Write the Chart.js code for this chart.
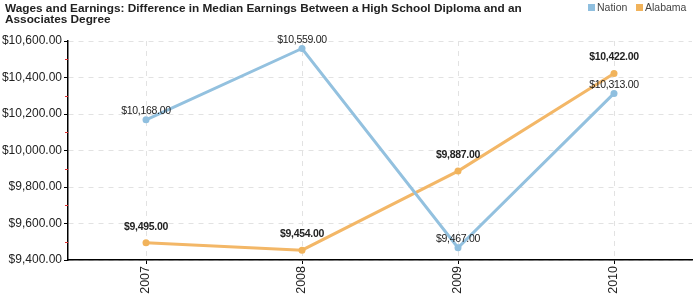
<!DOCTYPE html>
<html><head><meta charset="utf-8">
<script src="https://cdn.jsdelivr.net/npm/chart.js@4/dist/chart.umd.min.js"></script>
<style>html,body{margin:0;padding:0;background:#fff}#w{width:700px;height:300px;position:relative}</style>
</head><body><div id="w"><canvas id="c" width="700" height="300"></canvas></div>
<script>
const categories = ['2007','2008','2009','2010'];
const nationValues = [10168, 10559, 9467, 10313];
const alabamaValues = [9495, 9454, 9887, 10422];
const yTicks = [9400, 9600, 9800, 10000, 10200, 10400, 10600];
const titleLines = ['Wages and Earnings: Difference in Median Earnings Between a High School Diploma and an', 'Associates Degree'];
const seriesNames = ['Nation', 'Alabama'];

const fmt = v => '$' + v.toLocaleString('en-US', {minimumFractionDigits: 2, maximumFractionDigits: 2});
const FONT = 'Arial, "Liberation Sans", sans-serif';

const overlay = {
  id: 'overlay',
  afterDraw(chart) {
    const ctx = chart.ctx;
    const ys = chart.scales.y, area = chart.chartArea;
    ctx.save();
    // title
    ctx.fillStyle = '#222';
    ctx.font = 'bold 11.8px ' + FONT;
    ctx.textBaseline = 'middle';
    ctx.textAlign = 'left';
    titleLines.forEach((t, i) => ctx.fillText(t, 5, 9 + i * 10.5));
    // legend
    ctx.font = '10.5px ' + FONT;
    const cols = ['#8fbfdf', '#f1b35b'];
    const bx = [588, 636];
    seriesNames.forEach((n, i) => {
      ctx.fillStyle = cols[i];
      ctx.fillRect(bx[i], 4, 7, 7);
      ctx.fillStyle = '#444';
      ctx.fillText(n, bx[i] + 9, 8);
    });
    // minor red ticks
    ctx.strokeStyle = '#e03030';
    ctx.lineWidth = 1;
    for (let i = 0; i < yTicks.length - 1; i++) {
      const v = (yTicks[i] + yTicks[i + 1]) / 2;
      const py = Math.round(ys.getPixelForValue(v)) + 0.5;
      ctx.beginPath(); ctx.moveTo(area.left - 3, py); ctx.lineTo(area.left, py); ctx.stroke();
    }
    // data labels
    ctx.textAlign = 'center';
    ctx.fillStyle = '#222';
    try { ctx.letterSpacing = '-0.3px'; } catch (e) {}
    chart.data.datasets.forEach((ds, di) => {
      const meta = chart.getDatasetMeta(di);
      ctx.font = (di === 1 ? 'bold ' : '') + '10.5px ' + FONT;
      const off = di === 1 ? 16 : 8.5;
      meta.data.forEach((pt, i) => {
        ctx.fillText(fmt(ds.data[i]), pt.x, pt.y - off);
      });
    });
    ctx.restore();
  }
};

new Chart(document.getElementById('c'), {
  type: 'line',
  data: {
    labels: categories,
    datasets: [
      {label: seriesNames[0], data: nationValues, borderColor: '#93c1df', backgroundColor: '#8fbfdf', borderWidth: 3, pointRadius: 3.5, pointBorderWidth: 0, pointBackgroundColor: '#8fbfdf', tension: 0},
      {label: seriesNames[1], data: alabamaValues, borderColor: '#f3b767', backgroundColor: '#f1b35b', borderWidth: 3, pointRadius: 3.5, pointBorderWidth: 0, pointBackgroundColor: '#f1b35b', tension: 0}
    ]
  },
  options: {
    responsive: false,
    animation: false,
    layout: {padding: {top: 41, right: 8, left: 0, bottom: 0}},
    plugins: {legend: {display: false}, title: {display: false}, tooltip: {enabled: false}},
    scales: {
      x: {
        offset: true,
        grid: {color: '#e2e2e2', tickColor: '#000', tickLength: 4, offset: false, tickBorderDash: []},
        border: {color: '#000', width: 1.5, dash: [5, 5]},
        ticks: {color: '#222', font: {size: 12.5, family: FONT}, maxRotation: 90, minRotation: 90, padding: 2},
        afterFit(s) { s.height = 40; }
      },
      y: {
        min: 9400, max: 10600,
        afterBuildTicks(s) { s.ticks = yTicks.map(v => ({value: v})); },
        grid: {color: '#e2e2e2', tickColor: '#000', tickLength: 4, tickBorderDash: []},
        border: {color: '#000', width: 1.5, dash: [5, 5]},
        ticks: {color: '#222', font: {size: 12, family: FONT}, padding: 2, callback: v => fmt(v)},
        afterFit(s) { s.width = 68; }
      }
    }
  },
  plugins: [overlay]
});
</script>
</body></html>
